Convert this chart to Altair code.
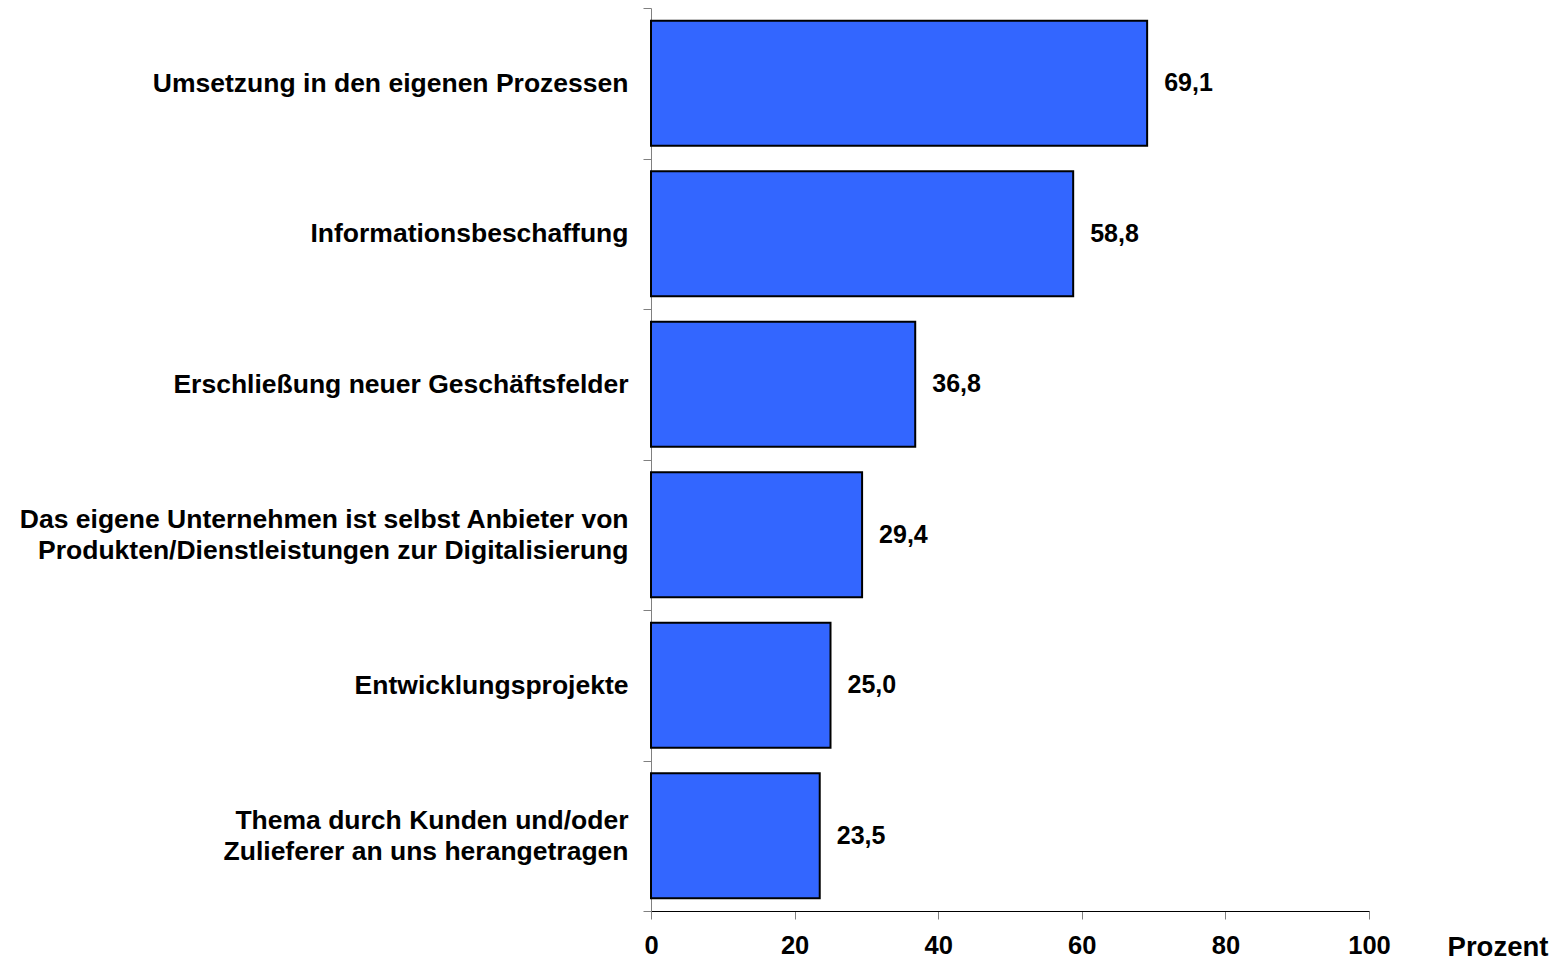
import altair as alt
import pandas as pd

categories = [
    "Umsetzung in den eigenen Prozessen",
    "Informationsbeschaffung",
    "Erschließung neuer Geschäftsfelder",
    "Das eigene Unternehmen ist selbst Anbieter von|Produkten/Dienstleistungen zur Digitalisierung",
    "Entwicklungsprojekte",
    "Thema durch Kunden und/oder|Zulieferer an uns herangetragen",
]
values = [69.1, 58.8, 36.8, 29.4, 25.0, 23.5]
x_ticks = [0, 20, 40, 60, 80, 100]

df = pd.DataFrame({"kategorie": categories, "prozent": values})
df["label"] = [f"{v:.1f}".replace(".", ",") for v in values]

FONT = "Liberation Sans"
LINE_H = 31

y_enc = alt.Y(
    "kategorie:N",
    sort=categories,
    title=None,
    scale=alt.Scale(paddingInner=0, paddingOuter=0),
    axis=alt.Axis(
        tickBand="extent",
        labelExpr="split(datum.label, '|')",
        labelFont=FONT,
        labelFontSize=26.5,
        labelFontWeight="bold",
        labelColor="black",
        labelPadding=15,
        labelLineHeight=LINE_H,
        labelLimit=0,
        labelOffset={
            "condition": {"test": "indexof(datum.label, '|') >= 0", "value": -LINE_H / 2},
            "value": 0,
        },
        tickSize=8,
        tickColor="#808080",
        domainColor="#808080",
        grid=False,
    ),
)

x_enc = alt.X(
    "prozent:Q",
    scale=alt.Scale(domain=[0, 100], nice=False, zero=True),
    axis=alt.Axis(
        values=x_ticks,
        grid=False,
        labelFont=FONT,
        labelFontSize=25.5,
        labelFontWeight="bold",
        labelColor="black",
        labelPadding=14,
        labelFlush=False,
        tickSize=8,
        tickColor="#808080",
        domainColor="black",
        title="Prozent",
        titleFont=FONT,
        titleFontSize=27.5,
        titleFontWeight="bold",
        titleColor="black",
        titleX=846.5,
        titleY=22,
        titleAlign="center",
        titleBaseline="top",
        titleAngle=0,
    ),
)

bars = alt.Chart(df).mark_bar(
    color="#3366FF", stroke="black", strokeWidth=2, height={"band": 0.83}
).encode(y=y_enc, x=x_enc)

text = alt.Chart(df).mark_text(
    align="left", baseline="middle", dx=17, font=FONT, fontSize=25,
    fontWeight="bold", color="black"
).encode(
    y=alt.Y("kategorie:N", sort=categories),
    x=alt.X("prozent:Q"),
    text="label:N",
)

chart = (bars + text).properties(
    width=718,
    height=903,
    padding={"left": 643, "top": 0, "right": 185, "bottom": 50},
    autosize=alt.AutoSizeParams(type="none"),
).configure_view(stroke=None)

chart.save("out.html", embed_options={"renderer": "svg", "actions": False})
